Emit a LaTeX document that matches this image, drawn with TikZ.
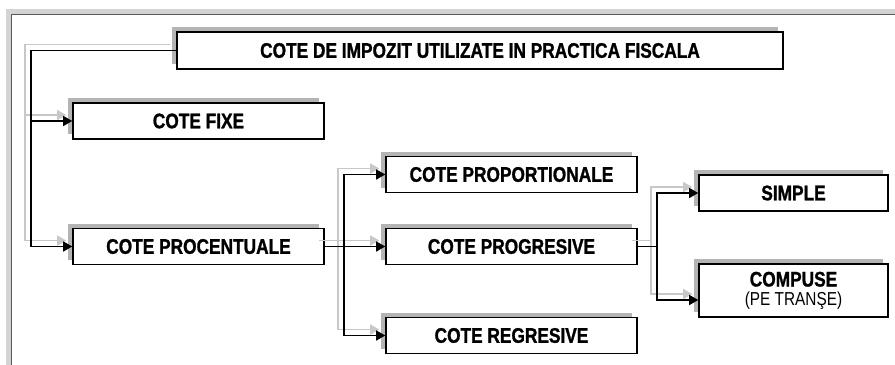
\documentclass[tikz,border=0pt]{standalone}
\usepackage{fontspec}
\setmainfont{Liberation Sans}[FakeStretch=0.82, BoldFeatures={FakeBold=1.2}]
\usetikzlibrary{arrows.meta,calc,shadows}
\definecolor{shadegray}{HTML}{B4B4B4}
\definecolor{wiregray}{HTML}{C8C8C8}
\definecolor{framegray}{HTML}{D4D4D4}
\def\px{0.03cm}

\begin{document}
\begin{tikzpicture}[
  x=0.03cm, y=-0.03cm,
  >={Triangle[length=0.27cm,width=0.3cm]},
  box/.style={draw, fill=white, line width=1.3pt, inner sep=0pt, align=center,
    font=\fontsize{18}{13}\selectfont\bfseries,
    general shadow={fill=shadegray, shadow xshift=-0.15cm, shadow yshift=0.15cm}},
  wide/.style={box, minimum width=251*\px, minimum height=36*\px},
  narrow/.style={box, minimum width=189*\px, minimum height=36*\px},
  link/.style={->, line width=1pt},
  linkshade/.style={->, draw=wiregray, line width=1.3pt,
    transform canvas={shift={(-0.18cm,0.18cm)}}}
]
  \useasboundingbox (0,0) rectangle (895,365);

  % window frame
  \fill[framegray] (6,9) rectangle (895,14);
  \fill[framegray] (6,9) rectangle (11,365);
  \draw[black!65, line width=0.8pt] (11.5,365) |- (895,14.5);

  % boxes
  \node[box, minimum width=606*\px, minimum height=37*\px] (title) at (480,50.5)
    {COTE DE IMPOZIT UTILIZATE IN PRACTICA FISCALA};
  \node[wide] (fixe)    at (198.5,121)   {COTE FIXE};
  \node[wide] (procent) at (198.5,246.5) {COTE PROCENTUALE};
  \node[wide] (proport) at (511.5,174.5) {COTE PROPORTIONALE};
  \node[wide] (progres) at (511.5,246.5) {COTE PROGRESIVE};
  \node[wide] (regres)  at (511.5,335.5) {COTE REGRESIVE};
  \node[narrow] (simple) at (793.5,193) {SIMPLE};
  \node[narrow, minimum height=53*\px] (compuse) at (793.5,290.5)
    {COMPUSE\\[3pt]{\mdseries\fontsize{16}{13}\selectfont (PE TRANŞE)}};

  % branch points
  \coordinate (busA) at (31,50.5);
  \coordinate (busB) at (344,246.5);
  \coordinate (busC) at (657,246.5);

  % connectors, gray copy first
  \foreach \s in {linkshade,link} {
    \draw[\s] (title.west) -- (busA) |- (fixe.west);
    \draw[\s] (busA) |- (procent.west);
    \draw[\s] (procent.east) -- (busB) |- (proport.west);
    \draw[\s] (busB) -- (progres.west);
    \draw[\s] (busB) |- (regres.west);
    \draw[\s] (progres.east) -- (busC) |- (simple.west);
    \draw[\s] (busC) |- ($(compuse.west)+(0,9.5)$);
  }
\end{tikzpicture}
\end{document}
